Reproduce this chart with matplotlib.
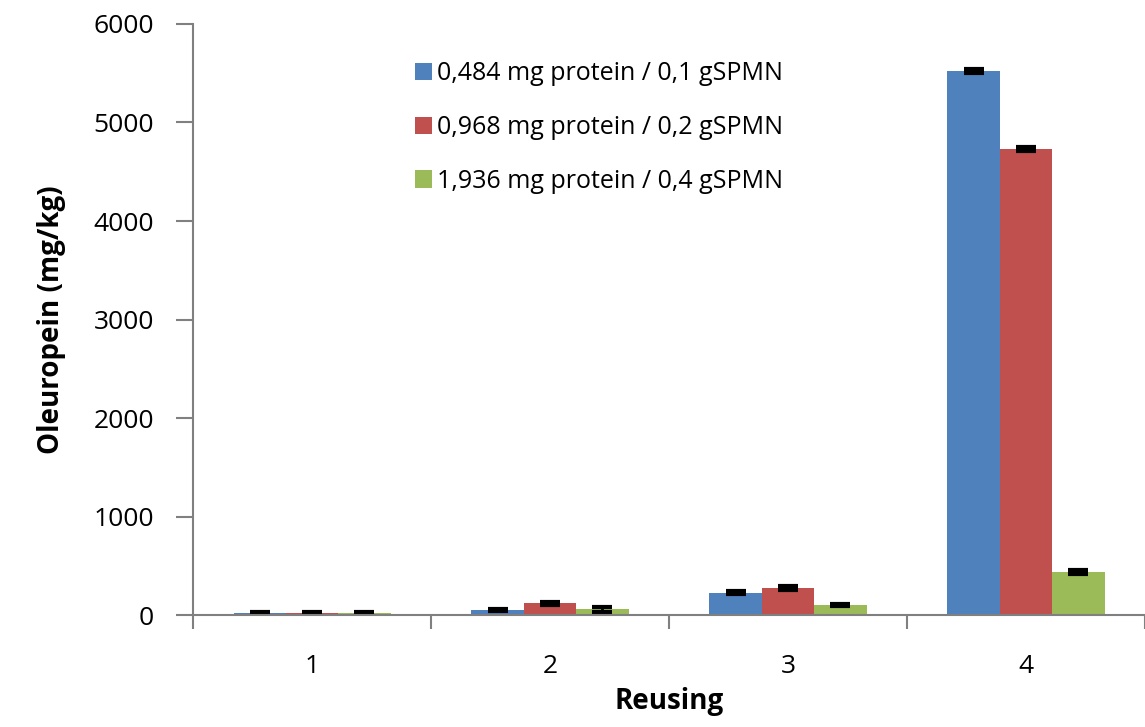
import numpy as np
import matplotlib
matplotlib.use('Agg')
import matplotlib.pyplot as plt

plt.rcParams['font.family'] = ['Open Sans', 'DejaVu Sans']

categories = ['1', '2', '3', '4']
labels = ['0,484 mg protein / 0,1 gSPMN',
          '0,968 mg protein / 0,2 gSPMN',
          '1,936 mg protein / 0,4 gSPMN']
values = [
    [18, 50, 225, 5520],
    [20, 118, 275, 4730],
    [18, 60, 105, 440],
]
errors = [
    [8, 10, 15, 20],
    [8, 15, 20, 20],
    [8, 25, 10, 20],
]
colors = ['#4F81BD', '#C0504D', '#9BBB59']


def main():
    fig = plt.figure(figsize=(11.45, 7.27), dpi=100)
    ax = fig.add_axes([0.1686, 0.154, 0.8314, 0.813])

    x = np.arange(len(categories))
    w = 0.22
    for i in range(3):
        ax.bar(x + (i - 1) * w, values[i], w, color=colors[i], label=labels[i],
               yerr=errors[i], error_kw=dict(ecolor='black', elinewidth=2,
                                              capsize=7, capthick=3))

    ax.set_xlim(-0.5, 3.5)
    ax.set_ylim(0, 6000)
    ax.set_yticks(np.arange(0, 6001, 1000))
    ax.set_xticks(x)
    ax.set_xticklabels(categories)
    ax.set_xticks(np.arange(-0.5, 3.6, 1), minor=True)
    ax.tick_params(axis='x', which='major', length=0, pad=28, labelsize=19)
    ax.tick_params(axis='x', which='minor', length=10, width=1.5, color='#808080',
                   direction='out')
    ax.tick_params(axis='y', length=12, width=1.5, color='#808080', pad=16,
                   labelsize=19)

    for s in ['top', 'right']:
        ax.spines[s].set_visible(False)
    for s in ['left', 'bottom']:
        ax.spines[s].set_color('#808080')
        ax.spines[s].set_linewidth(1.5)

    ax.set_xlabel('Reusing', fontsize=20, fontweight='bold', labelpad=6)
    ax.set_ylabel('Oleuropein (mg/kg)', fontsize=20, fontweight='bold', labelpad=20)

    ax.legend(loc='upper left', bbox_to_anchor=(0.2095, 0.975), frameon=False,
              fontsize=18, handlelength=0.7, handleheight=0.7, handletextpad=0.2,
              labelspacing=1.15)

    fig.savefig('out.png', dpi=100)
    plt.close(fig)


if __name__ == '__main__':
    main()
